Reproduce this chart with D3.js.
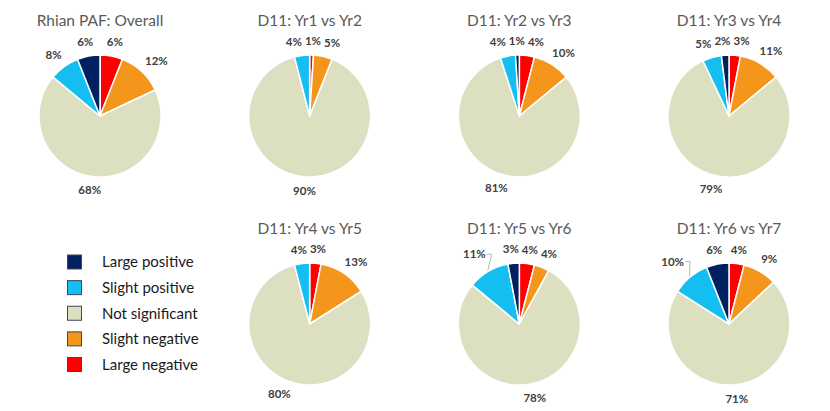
<!DOCTYPE html>
<html lang="en">
<head>
<meta charset="UTF-8">
<title>Rhian PAF: pie charts</title>
<script src="https://d3js.org/d3.v7.min.js"></script>
<style>
  body { margin: 0; background: #fff; }
  svg { display: block; font-family: Lato, "Open Sans", sans-serif; }
  .title { font-size: 15.5px; fill: #595959; }
  .pct { font-size: 11.5px; font-weight: bold; fill: #404040; }
  .legend-label { font-size: 15px; fill: #1a1a1a; }
</style>
</head>
<body>
<script>
// categories in legend order
const categories = ["Large positive", "Slight positive", "Not significant", "Slight negative", "Large negative"];
const colours = ["#002060", "#15BEF0", "#DDDFC1", "#F3961B", "#FF0000"];

const chartTitles = ["Rhian PAF: Overall", "D11: Yr1 vs Yr2", "D11: Yr2 vs Yr3", "D11: Yr3 vs Yr4",
                     "D11: Yr4 vs Yr5", "D11: Yr5 vs Yr6", "D11: Yr6 vs Yr7"];

// percentages, same order as categories
const overall = [6, 8, 68, 12, 6];
const yr1Yr2  = [0, 4, 90, 5, 1];
const yr2Yr3  = [1, 4, 81, 10, 4];
const yr3Yr4  = [2, 5, 79, 11, 3];
const yr4Yr5  = [0, 4, 80, 13, 3];
const yr5Yr6  = [3, 11, 78, 4, 4];
const yr6Yr7  = [6, 10, 71, 9, 4];
const chartValues = [overall, yr1Yr2, yr2Yr3, yr3Yr4, yr4Yr5, yr5Yr6, yr6Yr7];

// labels that sit out with a leader line
const leaderLabels = [["D11: Yr5 vs Yr6", "Slight positive"], ["D11: Yr6 vs Yr7", "Slight positive"]];

const width = 830, height = 411, r = 61;

const svg = d3.select("body").append("svg")
    .attr("width", width)
    .attr("height", height);

svg.append("rect").attr("width", width).attr("height", height).attr("fill", "#fff");

const colX = d3.scalePoint().domain([0, 1, 2, 3]).range([100, 729]);
const rowY = d3.scalePoint().domain([0, 1]).range([116, 324]);
const colour = d3.scaleOrdinal().domain(categories).range(colours);

// slices go clockwise from 12 o'clock: large negative first
const pie = d3.pie().sort(null).value(d => d.value);
const arc = d3.arc().innerRadius(0).outerRadius(r);

chartTitles.forEach((title, i) => {
    const row = i < 4 ? 0 : 1;
    const col = i < 4 ? i : i - 3;
    const cx = colX(col), cy = rowY(row);

    const g = svg.append("g").attr("transform", `translate(${cx},${cy})`);

    g.append("text")
        .attr("class", "title")
        .attr("x", 0)
        .attr("y", -90)
        .attr("text-anchor", "middle")
        .text(title);

    const data = categories.map((c, k) => ({ cat: c, value: chartValues[i][k] })).reverse();
    const arcs = pie(data);

    g.selectAll("path")
        .data(arcs.filter(d => d.value > 0))
        .join("path")
        .attr("d", arc)
        .attr("fill", d => colour(d.data.cat))
        .attr("stroke", "#fff")
        .attr("stroke-width", 1.5)
        .attr("stroke-linejoin", "round");

    // labels: box just outside the rim, then push apart where they collide
    const gap = 10, h = 8;
    const labels = arcs.filter(d => d.value > 0).map(d => {
        const a = (d.startAngle + d.endAngle) / 2;
        const sx = Math.sin(a), sy = -Math.cos(a);
        const lead = leaderLabels.some(l => l[0] === title && l[1] === d.data.cat);
        const t = g.append("text")
            .attr("class", "pct")
            .attr("text-anchor", "middle")
            .attr("dy", "0.35em")
            .text(d.value + "%");
        const w = t.node().getComputedTextLength();
        const rr = r + gap + (lead ? 6 : 0);
        return { t, a, sx, sy, w, lead, x: rr * sx + w / 2 * sx, y: rr * sy + h / 2 * sy };
    });

    for (let it = 0; it < 20; it++) {
        for (let p = 0; p < labels.length; p++) {
            for (let q = p + 1; q < labels.length; q++) {
                const A = labels[p], B = labels[q];
                const need = (A.w + B.w) / 2 + 3;
                const dx = B.x - A.x;
                if (Math.abs(dx) < need && Math.abs(B.y - A.y) < h + 3) {
                    const push = (need - Math.abs(dx)) / 2;
                    const dir = dx === 0 ? (B.sx > A.sx ? 1 : -1) : Math.sign(dx);
                    A.x -= dir * push;
                    B.x += dir * push;
                }
            }
        }
    }

    labels.forEach(L => {
        L.t.attr("x", L.x).attr("y", L.y);
        if (L.lead) {
            const ex = L.x + (L.sx < 0 ? L.w / 2 + 1 : -L.w / 2 - 1);
            const hx = ex + (L.sx < 0 ? 5 : -5);
            g.append("polyline")
                .attr("points", [[ex, L.y], [hx, L.y], [(r + 1) * L.sx, (r + 1) * L.sy]].join(" "))
                .attr("fill", "none")
                .attr("stroke", "#a6a6a6")
                .attr("stroke-width", 0.8);
        }
    });
});

// legend
const legendY = d3.scalePoint().domain(categories).range([262, 364.5]);
const legend = svg.append("g");
const items = legend.selectAll("g")
    .data(categories)
    .join("g")
    .attr("transform", d => `translate(0,${legendY(d)})`);

items.append("rect")
    .attr("x", 67.5)
    .attr("y", -7)
    .attr("width", 14)
    .attr("height", 14)
    .attr("fill", d => colour(d))
    .attr("stroke", "#3b4660")
    .attr("stroke-width", 1);

items.append("text")
    .attr("class", "legend-label")
    .attr("x", 102)
    .attr("dy", "0.35em")
    .text(d => d);
</script>
</body>
</html>
